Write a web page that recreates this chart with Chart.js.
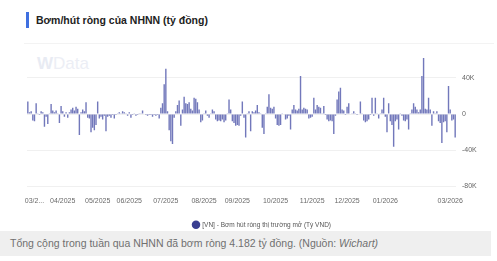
<!DOCTYPE html>
<html><head><meta charset="utf-8">
<script src="https://cdn.jsdelivr.net/npm/chart.js@4"></script>
<style>
html,body{margin:0;padding:0;background:#fff;width:497px;height:261px;overflow:hidden;font-family:"Liberation Sans",Arial,sans-serif;}
#bar{position:absolute;left:26px;top:12px;width:3px;height:16px;background:#3f6fe0;}
#title{position:absolute;left:36px;top:12px;font-size:10.5px;font-weight:bold;color:#222;line-height:16px;white-space:nowrap;}
#sep{position:absolute;left:24px;top:43px;width:470px;height:1px;background:#f3f3f3;}
#wm{position:absolute;left:37px;top:54px;font-size:17px;font-weight:bold;color:#e8ebf3;white-space:nowrap;}
#wm span{font-weight:normal;color:#eceef5;}
#wrap{position:absolute;left:0;top:45px;width:497px;height:193px;}
#cap{position:absolute;left:0;top:231px;width:491px;height:25px;background:#efefef;color:#707070;font-size:10.5px;line-height:25px;padding-left:10px;box-sizing:border-box;white-space:nowrap;}
</style></head>
<body>
<div id="bar"></div>
<div id="title">Bơm/hút ròng của NHNN (tỷ đồng)</div>
<div id="sep"></div>
<div id="wm">W<span>Data</span></div>
<div id="wrap"><canvas id="c" width="497" height="193"></canvas></div>
<div id="cap">Tổng cộng trong tuần qua NHNN đã bơm ròng 4.182 tỷ đồng. (Nguồn: <i>Wichart)</i></div>
<script>
// Net injection/withdrawal per trading day (tỷ đồng), Mar 2025 – Mar 2026
const values = [
 14000, 2000, 3000, -7000, -8000, 12000, 1000, -1000, 3000, 2000,
 -14000, -3000, -11000, 1000, 11000, 4000, 2000, 4000, 1000, -10000,
 9000, 3000, -3000, 2000, -4000, 2000, 5000, 7000, 4000, 8000,
 6000, -23000, 2000, 5000, 3000, 13000, -4000, -5000, -20000, -15000,
 -18000, -12000, 14000, -5000, -3000, -6000, -2000, -19000, -3000, -2000,
 -4000, -1000, -5000, -1000, 1000, 2000, 1000, 3000, 2000, 1000,
 -2000, 2000, -4000, -1000, 1000, -2000, -1000, 1000, 1000, 4000,
 -500, -1000, -2000, -1000, -1000, -3000, -1000, -2000, -1000, -5000,
 7000, 12000, 33000, 50000, 3000, -18000, -30000, -33000, -4000, 3000,
 10000, 15000, -13000, 5000, 19000, 12000, 11000, 13000, 6000, 4000,
 18000, 17000, 13000, 5000, -9000, -7000, 1000, 4000, -2000, -4000,
 1000, 5000, 3000, -6000, -8000, -7000, -8000, -6000, -9000, -7000,
 1000, 16000, 5000, -8000, -10000, -13000, -12000, -13000, -2000, 14000,
 -4000, -26000, 1000, 3000, -19000, 3000, 2000, 4000, 10000, 2000,
 1000, -15000, -22000, 1000, 8000, 22000, 7000, 6000, 8000, -5000,
 -12000, -13000, -12000, 1000, 500, -6000, -5000, -2000, -17000, 5000,
 10000, 5000, 4000, 6000, 42000, 5000, 7000, 6000, 5000, -5000,
 -4000, -3000, 18000, 5000, 10000, 8000, 7000, 1000, 9000, -1000,
 -6000, -8000, -7000, -8000, -22000, -2000, 16000, 25000, 29000, 5000,
 4000, -1000, 8000, 12000, 500, 1000, 3000, 1000, -1000, 500,
 14000, 1000, -7000, -9000, -8000, -6000, -1000, 18000, -2000, 18000,
 1000, -5000, 1000, 5000, 18000, -3000, -20000, 12000, -8000, -12000,
 -36000, -8000, -6000, -17000, 1000, -2000, -7000, -8000, -6000, -17000,
 1000, 5000, 12000, 8000, 5000, 2000, 5000, 42000, 62000, 6000,
 5000, 18000, 5000, -13000, 3000, 1000, 3000, -8000, -10000, -32000,
 -9000, -8000, -20000, 31000, 5000, -7000, -6000, -26000
];
// Month tick labels and the trading-day index where each appears
const monthLabels = ['03/2...','04/2025','05/2025','06/2025','07/2025','08/2025','09/2025','10/2025','11/2025','12/2025','01/2026','03/2026'];
const monthIndex  = [4, 21, 42, 61, 83, 106, 126, 149, 171, 192, 215, 254];
const yTicks = [-80000, -40000, 0, 40000];
const seriesName = '[VN] - Bơm hút ròng thị trường mở (Tỷ VND)';

const categories = values.map((_, i) => i);
const tickMap = {};
monthIndex.forEach((idx, k) => { tickMap[idx] = monthLabels[k]; });

new Chart(document.getElementById('c'), {
  type: 'bar',
  data: { labels: categories, datasets: [{ label: seriesName, data: values, backgroundColor: '#7278bb', barPercentage: 0.85, categoryPercentage: 1 }] },
  options: {
    responsive: false, animation: false, devicePixelRatio: 1,
    layout: { padding: { left: 27, right: 0, top: 9.5, bottom: 0 } },
    plugins: {
      tooltip: { enabled: false },
      legend: {
        position: 'bottom',
        labels: {
          usePointStyle: true, pointStyle: 'circle', boxWidth: 6, boxHeight: 6, padding: 13,
          font: { size: 6.5, family: '"Liberation Sans", Arial, sans-serif' }, color: '#555',
          generateLabels: (chart) => [{ text: seriesName, fillStyle: '#3a3f91', strokeStyle: '#3a3f91', lineWidth: 0, pointStyle: 'circle', datasetIndex: 0, fontColor: '#555' }]
        }
      }
    },
    scales: {
      x: {
        grid: { display: false, drawTicks: false }, border: { display: false },
        ticks: { autoSkip: false, maxRotation: 0, minRotation: 0, padding: 10, color: '#6a6a6a',
          font: { size: 7, family: '"Liberation Sans", Arial, sans-serif' },
          callback: (v, i) => tickMap[i] || '' },
        afterFit: (s) => { s.height = 22; }
      },
      y: {
        position: 'right', min: -80000, max: 65000,
        grid: { color: '#f0f0f0', drawTicks: false }, border: { display: false },
        ticks: { stepSize: 40000, padding: 6, color: '#666',
          font: { size: 7, family: '"Liberation Sans", Arial, sans-serif' },
          callback: (v) => v === 0 ? '0' : (v / 1000) + 'K' },
        afterBuildTicks: (a) => { a.ticks = yTicks.map(v => ({ value: v })); },
        afterFit: (s) => { s.width = 41; }
      }
    }
  }
});
</script>
</body></html>
